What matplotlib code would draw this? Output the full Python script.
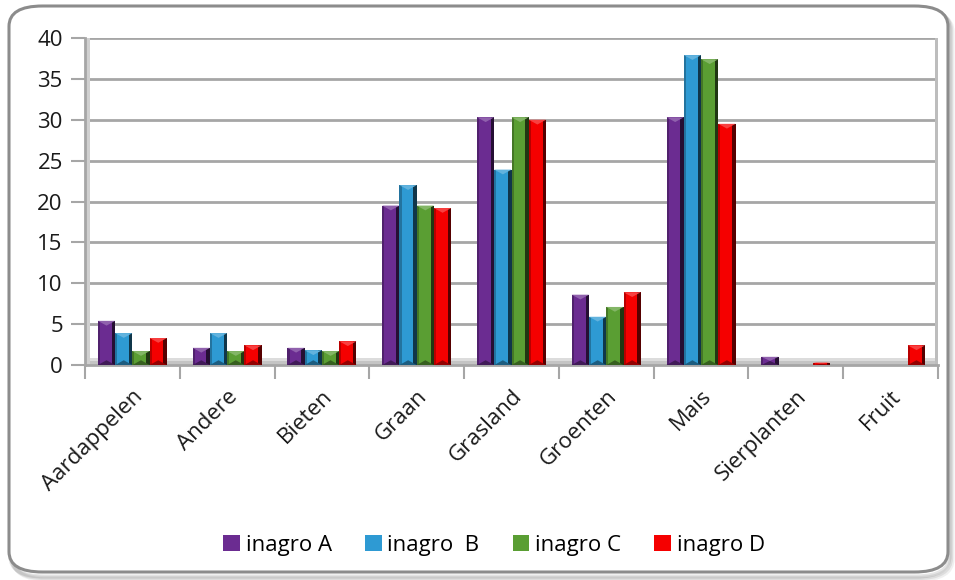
import numpy as np
import matplotlib
matplotlib.use("Agg")
import matplotlib.pyplot as plt
from matplotlib.patches import FancyBboxPatch, Polygon, Rectangle
from matplotlib.colors import to_rgb

plt.rcParams['font.family'] = ['Open Sans', 'DejaVu Sans']

categories = ["Aardappelen", "Andere", "Bieten", "Graan", "Grasland",
              "Groenten", "Mais", "Sierplanten", "Fruit"]
series_names = ["inagro A", "inagro  B", "inagro C", "inagro D"]
inagro_a = [5.4, 2.1, 2.1, 19.5, 30.3, 8.6, 30.3, 1.0, 0.0]
inagro_b = [3.9, 3.9, 1.8, 22.0, 23.9, 5.9, 37.9, 0.0, 0.0]
inagro_c = [1.7, 1.7, 1.7, 19.5, 30.3, 7.1, 37.4, 0.0, 0.0]
inagro_d = [3.3, 2.4, 2.9, 19.2, 30.0, 8.9, 29.5, 0.3, 2.4]
y_ticks = [0, 5, 10, 15, 20, 25, 30, 35, 40]

colors = ["#6B2C91", "#2E9AD3", "#5A9E33", "#F50000"]
series = [inagro_a, inagro_b, inagro_c, inagro_d]

W, H = 955, 580
fig = plt.figure(figsize=(W / 100, H / 100), dpi=100)

# rounded outer frame with soft shadow
for i, a in enumerate([0.06, 0.08, 0.10]):
    off = (3 - i) * 1.5
    fig.patches.append(FancyBboxPatch(
        ((9 + off) / W, (5 - off) / H), 939 / W, 568 / H,
        boxstyle="round,pad=0,rounding_size=0.035", transform=fig.transFigure,
        facecolor="none", edgecolor=(0, 0, 0, a), linewidth=3, zorder=0))
fig.patches.append(FancyBboxPatch(
    (9 / W, 8 / H), 939 / W, 566 / H,
    boxstyle="round,pad=0,rounding_size=0.035", transform=fig.transFigure,
    facecolor="white", edgecolor="#8c8c8c", linewidth=2.2, zorder=1))

ax = fig.add_axes([85 / W, (H - 365) / H, (938 - 85) / W, (365 - 38) / H])
ax.set_facecolor("none")
ax.set_zorder(2)

n = len(categories)
x = np.arange(n)
bw = 0.182

def shade(c, f):
    r = np.array(to_rgb(c))
    if f < 1:
        return tuple(r * f)
    return tuple(r + (1 - r) * (f - 1))

for si, (vals, col) in enumerate(zip(series, colors)):
    offs = (si - 1.5) * bw
    bars = ax.bar(x + offs, vals, width=bw, color=col, edgecolor="none",
                  zorder=3, label=series_names[si])
    for b in bars:
        h = b.get_height()
        if h <= 0:
            continue
        x0, w = b.get_x(), b.get_width()
        # bevel: darker right face, lighter left face, pyramid cap on top
        sx = w * 0.2
        ax.add_patch(Rectangle((x0 + w - sx, 0), sx, h,
                               facecolor=shade(col, 0.35), edgecolor="none", zorder=4))
        ax.add_patch(Rectangle((x0, 0), sx * 0.6, h,
                               facecolor=shade(col, 0.75), edgecolor="none", zorder=4))
        cap = min(w * 3.2, h * 0.5)
        ax.add_patch(Polygon([(x0, h), (x0 + w, h), (x0 + w / 2, h - cap)],
                             closed=True, facecolor=shade(col, 1.25),
                             edgecolor="none", zorder=5))
        ax.add_patch(Polygon([(x0, 0), (x0 + w, 0), (x0 + w / 2, min(cap, h * 0.5))],
                             closed=True, facecolor=shade(col, 0.6),
                             edgecolor="none", zorder=5))

ax.set_xlim(-0.5, n - 0.5)
ax.set_ylim(0, 40)
ax.set_yticks(y_ticks)
ax.yaxis.grid(True, color="#a6a6a6", linewidth=2.0, zorder=1)
ax.set_axisbelow(True)

# floor shading
ax.axhspan(0, 0.9, color="#dcdcdc", zorder=2, lw=0)
ax.axhspan(0, 0.45, color="#c4c4c4", zorder=2, lw=0)
# left wall and right edge shading
ax.axvspan(-0.5, -0.45, color="#d0d0d0", zorder=2, lw=0)
ax.axvspan(n - 0.53, n - 0.5, color="#bdbdbd", zorder=2, lw=0)

for s in ["top", "right"]:
    ax.spines[s].set_visible(False)
ax.spines["left"].set_color("#a6a6a6")
ax.spines["left"].set_linewidth(2)
ax.spines["bottom"].set_color("#a6a6a6")
ax.spines["bottom"].set_linewidth(2)

ax.set_xticks(np.arange(-0.5, n, 1.0))
ax.set_xticklabels([])
ax.set_xticks(x, minor=True)
ax.set_xticklabels(categories, minor=True, rotation=45, ha="right",
                   rotation_mode="anchor", fontsize=16, color="#1a1a1a")
ax.tick_params(axis="x", which="major", length=10, width=1.5, color="#a6a6a6")
ax.tick_params(axis="x", which="minor", length=0, pad=15)
ax.tick_params(axis="y", length=10, width=1.5, color="#a6a6a6",
               labelsize=16, labelcolor="#1a1a1a", pad=6)

leg = fig.legend(loc="center", bbox_to_anchor=(494 / W, (H - 545) / H), ncol=4,
                 frameon=False, fontsize=16, handlelength=0.75, handleheight=0.75,
                 handletextpad=0.25, columnspacing=1.5)

fig.savefig("out.png", dpi=100)
